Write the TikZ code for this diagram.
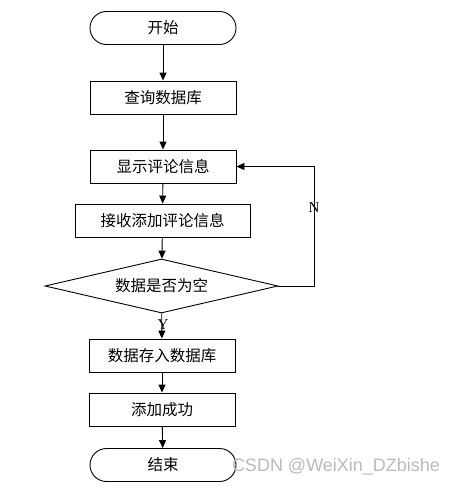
\documentclass[tikz,border=0pt]{standalone}
\usepackage{fontspec}
\setmainfont{Liberation Serif}
\newfontfamily\cjk{Noto Sans CJK SC}
\newfontfamily\wmfont{Liberation Sans}
\usetikzlibrary{shapes.geometric,arrows.meta}

\begin{document}
\begin{tikzpicture}[x=1pt,y=-1pt,
  box/.style={draw, line width=0.9pt, minimum width=146pt, minimum height=33pt, inner sep=0pt, font=\cjk\fontsize{15.5}{17}\selectfont},
  term/.style={box, rounded corners=16.5pt},
  decide/.style={draw, line width=0.9pt, diamond, aspect=4.3, minimum width=233pt, minimum height=54pt, inner sep=0pt, font=\cjk\fontsize{15.5}{17}\selectfont},
  flow/.style={-{Triangle[length=8pt,width=7pt]}, line width=0.9pt},
  lab/.style={font=\fontsize{15}{17}\selectfont}]
  \useasboundingbox (0,0) rectangle (457,487);
  % nodes
  \node[term] (start) at (163,28) {开始};
  \node[box] (query) at (163,97.5) {查询数据库};
  \node[box] (show) at (163,166.5) {显示评论信息};
  \node[box, minimum width=175pt] (recv) at (162.5,220.5) {接收添加评论信息};
  \node[decide] (empty) at (161.5,286) {数据是否为空};
  \node[box] (save) at (162,355.5) {数据存入数据库};
  \node[box] (ok) at (162,409.5) {添加成功};
  \node[term] (stop) at (163,465) {结束};
  \coordinate (nbend) at (314,286);
  % connectors
  \draw[flow] (start) -- (query);
  \draw[flow] (query) -- (show);
  \draw[flow] (show) -- (recv);
  \draw[flow] (recv) -- (empty);
  \draw[flow] (empty) -- (save);
  \draw[flow] (save) -- (ok);
  \draw[flow] (ok) -- (stop);
  \draw[flow] (empty.east) -- (nbend) |- (show.east);
  \node[lab] (nlab) at (314,208) {N};
  \node[lab] (ylab) at (163,325) {Y};
  % watermark
  \node[font=\wmfont\fontsize{18}{20}\selectfont, text=black!27] (mark) at (336,467) {CSDN @WeiXin\_DZbishe};
\end{tikzpicture}
\end{document}
